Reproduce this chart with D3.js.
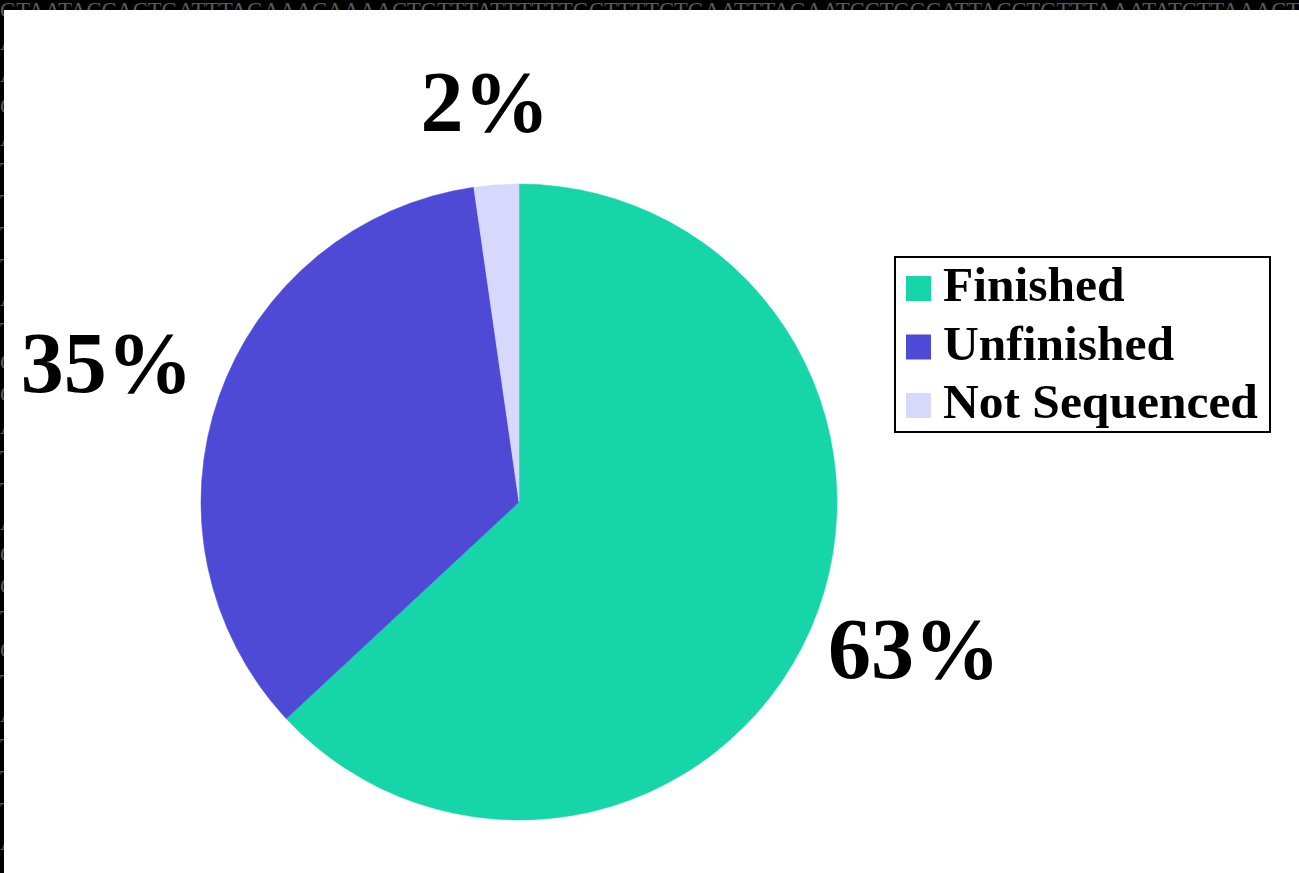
<!DOCTYPE html>
<html>
<head>
<meta charset="utf-8">
<script src="https://cdn.jsdelivr.net/npm/d3@7"></script>
<style>
  body { margin: 0; background: #000; overflow: hidden; }
  svg { display: block; }
</style>
</head>
<body>
<script>
// chart data
let categories = ["Finished", "Unfinished", "Not Sequenced"];
let shares = [63.07, 34.66, 2.27];
let labels = ["63%", "35%", "2%"];
let colors = ["#15d5a9", "#4f4ad6", "#d8d8fc"];

// background sequence text (decoration): top row and first letter of each row below
let topRow = "GTAATACCACTGATTTAGAAACAAAACTGTTTATTTTTTGCTTTTCTGAATTTAGAATCCTGGCATTACCTGTTTAAATATCTTAAACTGAT";
let leftColumn = "AACATTTTATGCATTACCTCTATTTA";

let W = 1299, H = 873;
let cx = 519, cy = 502, radius = 318;
// labels sit on an ellipse round the pie
let labelRx = 434, labelRy = 392, labelDx = -3, labelDy = -9;

let svg = d3.select("body").append("svg")
  .attr("width", W)
  .attr("height", H);

// dna letters peeking out round the white panel
let bg = svg.append("g")
  .attr("fill", "#5a5a5a")
  .style("font-family", "'Liberation Serif', serif")
  .style("font-size", "22.5px");
bg.append("text")
  .attr("x", 0)
  .attr("y", 18)
  .text(topRow);
bg.selectAll("text.col")
  .data(leftColumn.split(""))
  .enter()
  .append("text")
  .attr("class", "col")
  .attr("x", 0)
  .attr("y", (d, i) => 50 + i * 32)
  .text(d => d);

svg.append("rect")
  .attr("x", 4)
  .attr("y", 10)
  .attr("width", W - 4)
  .attr("height", H - 10)
  .attr("fill", "#fff");

//pie
let pie = d3.pie().sort(null).value(d => d)(shares);
let arc = d3.arc().innerRadius(0).outerRadius(radius);
let unitArc = d3.arc().innerRadius(1).outerRadius(1);

let g = svg.append("g").attr("transform", `translate(${cx},${cy})`);

g.selectAll("path.slice")
  .data(pie)
  .enter()
  .append("path")
  .attr("class", "slice")
  .attr("d", arc)
  .attr("fill", (d, i) => colors[i])
  .attr("stroke", (d, i) => colors[i])
  .attr("stroke-width", 0.5);

g.selectAll("text.pct")
  .data(pie)
  .enter()
  .append("text")
  .attr("class", "pct")
  .attr("x", d => unitArc.centroid(d)[0] * labelRx + labelDx)
  .attr("y", d => unitArc.centroid(d)[1] * labelRy + labelDy)
  .attr("text-anchor", "middle")
  .attr("dominant-baseline", "central")
  .style("font-family", "'Liberation Serif', 'Times New Roman', serif")
  .style("font-weight", "bold")
  .style("font-size", "86px")
  .text((d, i) => labels[i]);

//legend
let lx = 895, ly = 257, rowH = 58.5;
let legend = svg.append("g").attr("transform", `translate(${lx},${ly})`);
legend.append("rect")
  .attr("x", 0)
  .attr("y", 0)
  .attr("width", 375)
  .attr("height", 175)
  .attr("fill", "#fff")
  .attr("stroke", "#000")
  .attr("stroke-width", 2);

let item = legend.selectAll("g.item")
  .data(categories)
  .enter()
  .append("g")
  .attr("class", "item")
  .attr("transform", (d, i) => `translate(0,${19 + i * rowH})`);

item.append("rect")
  .attr("x", 11)
  .attr("y", 0)
  .attr("width", 25)
  .attr("height", 25)
  .attr("fill", (d, i) => colors[i]);

item.append("text")
  .attr("x", 48)
  .attr("y", 25)
  .style("font-family", "'Liberation Serif', 'Times New Roman', serif")
  .style("font-weight", "bold")
  .style("font-size", "49.5px")
  .text(d => d);
</script>
</body>
</html>
